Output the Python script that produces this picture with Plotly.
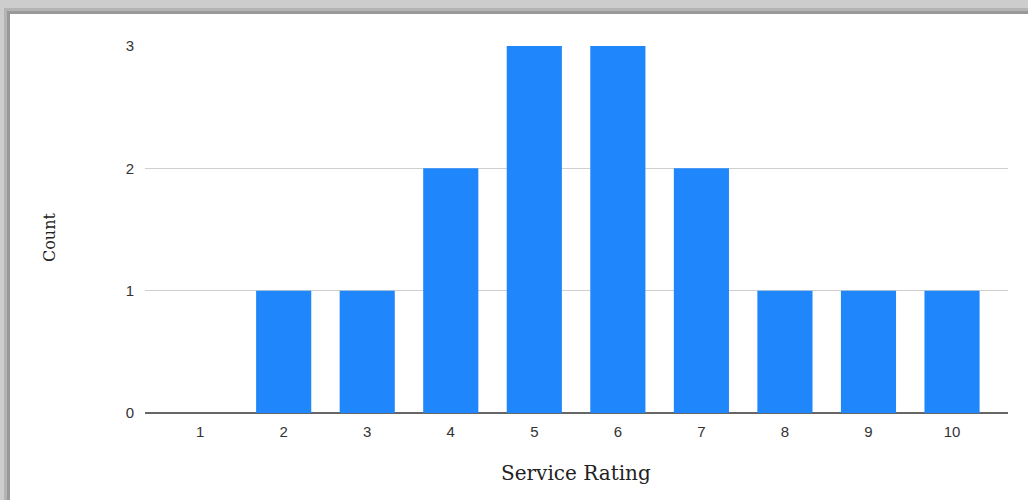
import plotly.graph_objects as go

ratings = [1, 2, 3, 4, 5, 6, 7, 8, 9, 10]
counts = [0, 1, 1, 2, 3, 3, 2, 1, 1, 1]
y_ticks = [0, 1, 2, 3]
x_title = "Service Rating"
y_title = "Count"

L, R, T, B = 145, 20, 46, 87
W, H = 1028, 500
pw, ph = W - L - R, H - T - B

def px(x):
    return (x - L) / pw

def py(y):
    return (H - B - y) / ph

fig = go.Figure(go.Bar(x=ratings, y=counts, marker=dict(color="#1f87fb", line=dict(width=0)),
                       width=0.66))

shapes = [
    # soft shadow around panel
    dict(type="rect", xref="paper", yref="paper", x0=px(4), x1=px(1032), y0=py(504), y1=py(8),
         fillcolor="#b4b4b4", line=dict(width=0), layer="below"),
    dict(type="rect", xref="paper", yref="paper", x0=px(7), x1=px(1032), y0=py(504), y1=py(11),
         fillcolor="#999999", line=dict(width=0), layer="below"),
    dict(type="rect", xref="paper", yref="paper", x0=px(10), x1=px(1032), y0=py(504), y1=py(14),
         fillcolor="#ffffff", line=dict(width=0), layer="below"),
]

annotations = [
    dict(text=x_title, xref="paper", yref="paper", x=px(576), y=py(473), showarrow=False,
         xanchor="center", yanchor="middle",
         font=dict(family="DejaVu Serif, Georgia", size=20, color="#222222")),
    dict(text=y_title, xref="paper", yref="paper", x=px(50), y=py(238), showarrow=False,
         xanchor="center", yanchor="middle", textangle=-90,
         font=dict(family="DejaVu Serif, Georgia", size=16, color="#222222")),
]

fig.update_layout(
    width=W, height=H,
    margin=dict(l=L, r=R, t=T, b=B),
    paper_bgcolor="#cdcdcd",
    plot_bgcolor="rgba(0,0,0,0)",
    shapes=shapes,
    annotations=annotations,
    showlegend=False,
    bargap=0.34,
    xaxis=dict(
        range=[0.34, 10.67], tickmode="array", tickvals=ratings, ticktext=[str(r) for r in ratings],
        showgrid=False, zeroline=False, showline=False, ticks="",
        tickfont=dict(family="Liberation Sans, Arial", size=15, color="#333333"),
        ticklabelstandoff=8,
    ),
    yaxis=dict(
        range=[0, 3], tickmode="array", tickvals=y_ticks, ticktext=[str(v) for v in y_ticks],
        showgrid=True, gridcolor="#cfcfcf", gridwidth=1,
        zeroline=True, zerolinecolor="#666666", zerolinewidth=2,
        showline=False, ticks="",
        tickfont=dict(family="Liberation Sans, Arial", size=15, color="#333333"),
        ticklabelstandoff=10,
    ),
)

fig.write_html("out.html", config={"displayModeBar": False},
               post_script="document.body.style.margin='0px';document.body.style.overflow='hidden';")
